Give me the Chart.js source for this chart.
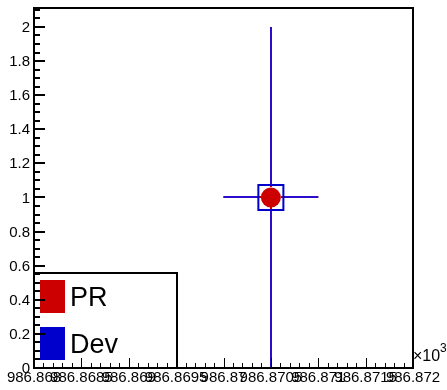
<!DOCTYPE html>
<html>
<head>
<meta charset="utf-8">
<script src="https://cdn.jsdelivr.net/npm/chart.js@4/dist/chart.umd.min.js"></script>
<style>
  html, body { margin: 0; padding: 0; background: #fff; }
  #wrap { width: 447px; height: 390px; position: relative; }
</style>
</head>
<body>
<div id="wrap"><canvas id="c" width="447" height="390"></canvas></div>
<script>
// ---- data (x in units of 10^3) ----
const seriesNames = ["PR", "Dev"];
const seriesColors = ["#cc0000", "#0000cc"];
const xValues = [986.8705];
const xErrors = [0.0005];
const prValues = [1];
const devValues = [1];
const yErrors = [1];
const xTickValues = [986.868, 986.8685, 986.869, 986.8695, 986.87, 986.8705, 986.871, 986.8715, 986.872];
const xTickLabels = ["986.868", "986.8685", "986.869", "986.8695", "986.87", "986.8705", "986.871", "986.8715", "986.872"];
const yTickValues = [0, 0.2, 0.4, 0.6, 0.8, 1, 1.2, 1.4, 1.6, 1.8, 2];
const yTickLabels = ["0", "0.2", "0.4", "0.6", "0.8", "1", "1.2", "1.4", "1.6", "1.8", "2"];
const xExponentLabel = "×10";
const xExponent = "3";

const FONT = "'Liberation Sans', Arial, sans-serif";

function pts(ys) {
  return xValues.map((x, i) => ({ x: x, y: ys[i], xerr: xErrors[i], yerr: yErrors[i] }));
}

const rootPlugin = {
  id: 'rootStyle',
  beforeDatasetsDraw(chart) {
    const ctx = chart.ctx;
    const xs = chart.scales.x, ys = chart.scales.y;
    const gaps = [10, 12.5];
    const cols = ["#cc0000", "#2a0ccc"];
    chart.data.datasets.forEach((ds, di) => {
      ctx.save();
      ctx.strokeStyle = cols[di];
      ctx.lineWidth = 2;
      ds.data.forEach(p => {
        const cx = Math.round(xs.getPixelForValue(p.x)), cy = Math.round(ys.getPixelForValue(p.y));
        const x0 = xs.getPixelForValue(p.x - p.xerr), x1 = xs.getPixelForValue(p.x + p.xerr);
        const y0 = ys.getPixelForValue(p.y - p.yerr), y1 = ys.getPixelForValue(p.y + p.yerr);
        const g = gaps[di];
        ctx.beginPath();
        ctx.moveTo(x0, cy); ctx.lineTo(cx - g, cy);
        ctx.moveTo(cx + g, cy); ctx.lineTo(x1, cy);
        ctx.moveTo(cx, y1); ctx.lineTo(cx, cy - g);
        ctx.moveTo(cx, cy + g); ctx.lineTo(cx, y0);
        ctx.stroke();
      });
      ctx.restore();
    });
  },
  afterDatasetsDraw(chart) {
    const ctx = chart.ctx;
    const a = chart.chartArea;
    const xs = chart.scales.x, ys = chart.scales.y;
    // legend box
    ctx.save();
    const lx = a.left, ly = 273, lw = 143, lh = a.bottom - 273;
    ctx.fillStyle = '#fff';
    ctx.fillRect(lx, ly, lw, lh);
    ctx.strokeStyle = '#000';
    ctx.lineWidth = 2;
    ctx.strokeRect(lx, ly, lw, lh);
    seriesNames.forEach((n, i) => {
      const top = 280 + i * 47;
      ctx.fillStyle = seriesColors[i];
      ctx.fillRect(40, top, 25, 33);
      ctx.fillStyle = '#000';
      ctx.font = '27px ' + FONT;
      ctx.textBaseline = 'alphabetic';
      ctx.textAlign = 'left';
      ctx.fillText(n, 70, top + 26);
    });
    ctx.restore();

    // ticks
    ctx.save();
    ctx.strokeStyle = '#000';
    const xmin = xs.min, xmax = xs.max;
    const nx = Math.round((xmax - xmin) / 0.0001);
    for (let i = 0; i <= nx; i++) {
      const v = xmin + i * 0.0001;
      const px = Math.round(xs.getPixelForValue(v)) + 0.5;
      const len = (i % 5 === 0) ? 10 : 5;
      ctx.lineWidth = 1;
      ctx.beginPath();
      ctx.moveTo(px, a.bottom);
      ctx.lineTo(px, a.bottom - len);
      ctx.stroke();
    }
    const ny = Math.floor(ys.max / 0.05 + 1e-6);
    for (let i = 0; i <= ny; i++) {
      const v = i * 0.05;
      const py = Math.round(ys.getPixelForValue(v));
      const major = (i % 4 === 0);
      ctx.lineWidth = 2;
      ctx.beginPath();
      ctx.moveTo(a.left, py);
      ctx.lineTo(a.left + (major ? 11 : 6), py);
      ctx.stroke();
    }
    // y labels
    ctx.fillStyle = '#000';
    ctx.font = '15px ' + FONT;
    ctx.textAlign = 'right';
    ctx.textBaseline = 'middle';
    yTickValues.forEach((v, i) => {
      ctx.fillText(yTickLabels[i], a.left - 4, ys.getPixelForValue(v) + 1);
    });
    // frame
    ctx.lineWidth = 2;
    ctx.strokeRect(a.left, a.top, a.right - a.left, a.bottom - a.top);
    // exponent
    ctx.textAlign = 'left';
    ctx.textBaseline = 'alphabetic';
    ctx.font = '16px ' + FONT;
    ctx.fillText(xExponentLabel, a.right, 361);
    ctx.font = '12px ' + FONT;
    ctx.fillText(xExponent, a.right + 27, 352);
    ctx.restore();
  }
};

new Chart(document.getElementById('c'), {
  type: 'scatter',
  data: {
    datasets: [
      {
        label: seriesNames[0],
        data: pts(prValues),
        pointStyle: 'circle',
        pointRadius: 10,
        pointHoverRadius: 10,
        backgroundColor: seriesColors[0],
        borderColor: seriesColors[0],
        borderWidth: 0,
        order: 0
      },
      {
        label: seriesNames[1],
        data: pts(devValues),
        pointStyle: 'rect',
        pointRadius: 17.7,
        pointHoverRadius: 17.7,
        backgroundColor: 'rgba(0,0,0,0)',
        borderColor: seriesColors[1],
        borderWidth: 2,
        order: 1
      }
    ]
  },
  options: {
    responsive: false,
    animation: false,
    devicePixelRatio: 1,
    layout: { autoPadding: false, padding: { left: 0, right: 34, top: 8, bottom: 0 } },
    plugins: { legend: { display: false }, tooltip: { enabled: false } },
    events: [],
    scales: {
      x: {
        type: 'linear',
        min: 986.868,
        max: 986.872,
        grid: { display: false, drawTicks: false },
        border: { display: false },
        afterBuildTicks: s => { s.ticks = xTickValues.map(v => ({ value: v })); },
        afterFit: s => { s.height = 22; s.paddingLeft = 0; s.paddingRight = 0; },
        ticks: {
          autoSkip: false,
          maxRotation: 0,
          minRotation: 0,
          padding: 1,
          color: '#000',
          font: { family: FONT, size: 15 },
          callback: (v, i) => xTickLabels[i]
        }
      },
      y: {
        type: 'linear',
        min: 0,
        max: 2.111,
        grid: { display: false, drawTicks: false },
        border: { display: false },
        afterFit: s => { s.width = 34; s.paddingTop = 0; s.paddingBottom = 0; },
        ticks: { display: false }
      }
    }
  },
  plugins: [rootPlugin]
});
</script>
</body>
</html>
